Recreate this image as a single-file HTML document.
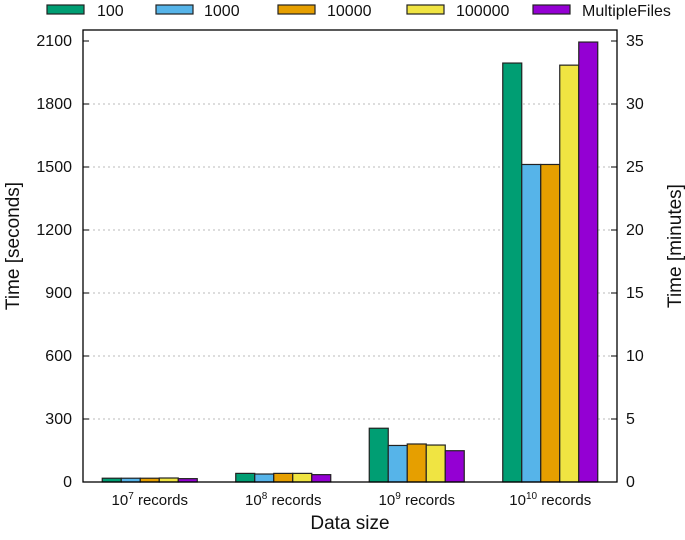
<!DOCTYPE html>
<html><head><meta charset="utf-8"><style>
body{margin:0;background:#fff;width:685px;height:535px;overflow:hidden}
svg text{font-family:"Liberation Sans",sans-serif;fill:#111}
</style></head><body>
<svg id="chart" width="685" height="535" viewBox="0 0 685 535"></svg>
<script>
const categories=["7","8","9","10"];
const seriesNames=["100","1000","10000","100000","MultipleFiles"];
const colors=["#009e73","#56b4e9","#e69f00","#f0e442","#9400d3"];
const s100=[18,41,256,1995];
const s1000=[18,38,174,1512];
const s10000=[18,41,181,1512];
const s100000=[19,41,176,1985];
const sMulti=[16,35,149,2095];
const series=[s100,s1000,s10000,s100000,sMulti];
const yTicks=[0,300,600,900,1200,1500,1800,2100];
const y2Ticks=[0,5,10,15,20,25,30,35];
const L=83,R=617,T=30,B=482;
const yMax=2100,yPx=441;
const y=v=>B-v*yPx/yMax;
const groupW=(R-L)/categories.length;
const cx=i=>L+groupW*(i+0.5);
const bw=19;
const NS="http://www.w3.org/2000/svg";
const svg=document.getElementById('chart');
function mk(t,a,txt){const e=document.createElementNS(NS,t);for(const k in a)e.setAttribute(k,a[k]);if(txt!==undefined)e.textContent=txt;svg.appendChild(e);return e;}
yTicks.forEach(v=>{
 if(v>0&&v<yMax){const g=mk('line',{x1:L,x2:R,y1:y(v),y2:y(v),stroke:'#bbb','stroke-dasharray':'2,3','stroke-width':1});
 
 }
 const t=mk('text',{x:L-11,y:y(v)+5,'text-anchor':'end','font-size':16},v);
 
 
 mk('line',{x1:L,x2:L+6,y1:y(v),y2:y(v),stroke:'#000'});
});
y2Ticks.forEach(v=>{
 const yy=B-v*60*yPx/yMax;
 const t=mk('text',{x:R+9,y:yy+5,'font-size':16},v);
 
 
 mk('line',{x1:R-6,x2:R,y1:yy,y2:yy,stroke:'#000'});
});
categories.forEach((c,i)=>{
 series.forEach((s,j)=>{
  const x0=cx(i)-bw*2.5+j*bw;
  const r=mk('rect',{x:x0,y:y(s[i]),width:bw,height:B-y(s[i]),fill:colors[j],stroke:'#222','stroke-width':1.2});
  
  
 });
 const t=mk('text',{x:cx(i),y:505,'text-anchor':'middle','font-size':15});
 
 
 t.innerHTML='10<tspan dy="-6" font-size="10">'+c+'</tspan><tspan dy="6"> records</tspan>';
});
const box=mk('rect',{x:L,y:T,width:R-L,height:B-T,fill:'none',stroke:'#000','stroke-width':1.3});


const xt=mk('text',{x:350,y:529,'text-anchor':'middle','font-size':19},'Data size');


const yt=mk('text',{x:0,y:0,'text-anchor':'middle','font-size':19,transform:'translate(19,246) rotate(-90)'},'Time [seconds]');


const y2t=mk('text',{x:0,y:0,'text-anchor':'middle','font-size':19,transform:'translate(681,246) rotate(-90)'},'Time [minutes]');


const lx=[47,156,278,407,533],tx=[97,204,327,456,582];
seriesNames.forEach((n,j)=>{
 const r=mk('rect',{x:lx[j],y:5,width:37,height:9,fill:colors[j],stroke:'#222','stroke-width':1.2});
 
 
 const t=mk('text',{x:tx[j],y:16,'font-size':16},n);
 
 
});
</script>
</body></html>
